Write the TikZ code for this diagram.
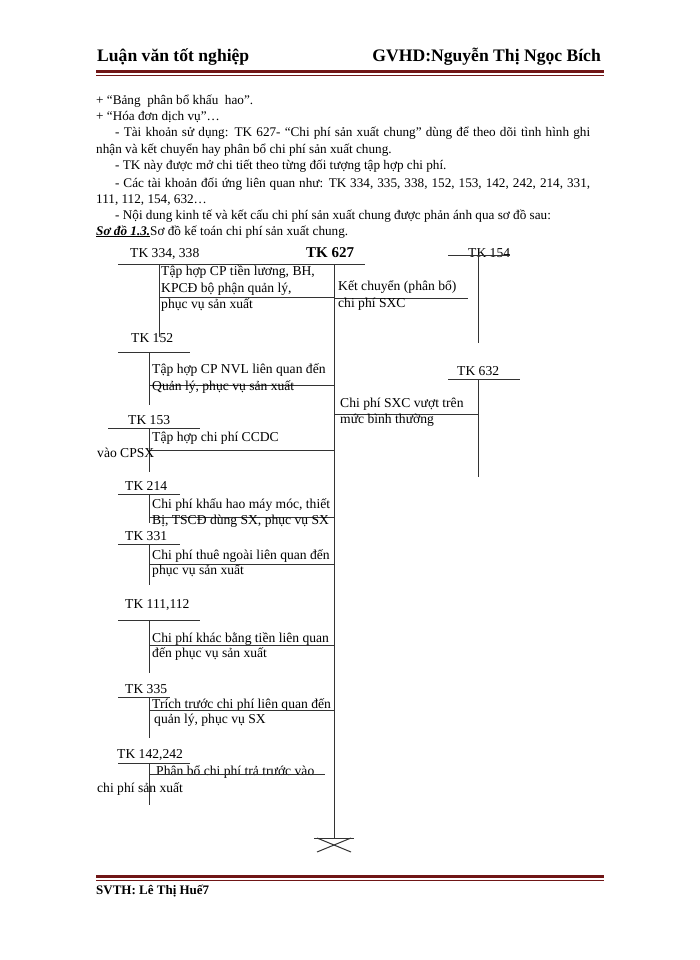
\documentclass[tikz,border=0pt]{standalone}
\usepackage{fontspec}
\setmainfont{Liberation Serif}
\usepackage{xcolor}
\usetikzlibrary{positioning}
\definecolor{rulered}{RGB}{112,22,22}

\begin{document}
\begin{tikzpicture}[x=1pt, y=-1pt,
  txt/.style={anchor=base west, inner sep=0pt,
              font=\fontsize{13.2}{15}\selectfont},
  note/.style={txt, font=\fontsize{13.6}{15}\selectfont},
  head/.style={txt, font=\bfseries\fontsize{17.6}{19}\selectfont},
  acc/.style={draw=black!80, line width=1pt}]
\useasboundingbox[fill=white] (0,0) rectangle (700,960);

\node[head] (hleft) at (97,62) {Luận văn tốt nghiệp};
\node[head, anchor=base east] (hright) at (601,62) {GVHD:Nguyễn Thị Ngọc Bích};
\draw[rulered, line width=3pt] (96,71.5) -- (604,71.5);
\draw[rulered, line width=0.7pt] (96,75) -- (604,75);

\node[txt] (p1) at (96,105) {+ “Bảng \ phân bổ khấu \ hao”.};
\node[txt] (p2) at (96,121) {+ “Hóa đơn dịch vụ”…};
\node[txt] (p3) at (115,137) {\makebox[475pt][s]{- Tài khoản sử dụng: TK 627- “Chi phí sản xuất chung” dùng để theo dõi tình hình ghi}};
\node[txt] (p4) at (96,154) {nhận và kết chuyển hay phân bổ chi phí sản xuất chung.};
\node[txt] (p5) at (115,170) {- TK này được mở chi tiết theo từng đối tượng tập hợp chi phí.};
\node[txt] (p6) at (115,187) {\makebox[475pt][s]{- Các tài khoản đối ứng liên quan như: TK 334, 335, 338, 152, 153, 142, 242, 214, 331,}};
\node[txt] (p7) at (96,203) {111, 112, 154, 632…};
\node[txt] (p8) at (115,219) {- Nội dung kinh tế và kết cấu chi phí sản xuất chung được phản ánh qua sơ đồ sau:};
\node[txt] (cap) at (96,235) {\underline{\textbf{\textit{Sơ đồ 1.3.}}}Sơ đồ kế toán chi phí sản xuất chung.};

\node[note, font=\bfseries\fontsize{15}{16}\selectfont] (tk627) at (306,257) {TK 627};
\draw[acc] (300,264) -- (365,264);
\draw[acc] (334,264) -- (334,838);
\draw[acc] (314,838) -- (354,838);
\draw[acc] (317,838) -- (351,852);
\draw[acc] (351,838) -- (317,852);

\node[note] (tk334) at (130,257) {TK 334, 338};
\draw[acc] (118,264) -- (300,264);
\draw[acc] (159,264) -- (159,337);
\node[note] (t334a) at (161,275) {Tập hợp CP tiền lương, BH,};
\node[note] (t334b) at (161,292) {KPCĐ bộ phận quản lý,};
\draw[acc] (159,297) -- (334,297);
\node[note] (t334c) at (161,308) {phục vụ sản xuất};

\node[note] (tk152) at (131,342) {TK 152};
\draw[acc] (118,352) -- (190,352);
\draw[acc] (149,352) -- (149,405);
\node[note] (t152a) at (152,373) {Tập hợp CP NVL liên quan đến};
\draw[acc] (149,385) -- (334,385);
\node[note] (t152b) at (152,390) {Quản lý, phục vụ sản xuất};

\node[note] (tk153) at (128,424) {TK 153};
\draw[acc] (108,428) -- (200,428);
\draw[acc] (149,428) -- (149,472);
\node[note] (t153a) at (152,441) {Tập hợp chi phí CCDC};
\draw[acc] (149,450) -- (334,450);
\node[note] (t153b) at (97,457) {vào CPSX};

\node[note] (tk214) at (125,490) {TK 214};
\draw[acc] (118,494) -- (180,494);
\draw[acc] (149,494) -- (149,523);
\node[note] (t214a) at (152,508) {Chi phí khấu hao máy móc, thiết};
\draw[acc] (149,517) -- (334,517);
\node[note] (t214b) at (152,524) {Bị, TSCĐ dùng SX, phục vụ SX};

\node[note] (tk331) at (125,540) {TK 331};
\draw[acc] (118,544) -- (180,544);
\draw[acc] (149,544) -- (149,585);
\node[note] (t331a) at (152,559) {Chi phí thuê ngoài liên quan đến};
\draw[acc] (149,564) -- (334,564);
\node[note] (t331b) at (152,574) {phục vụ sản xuất};

\node[note] (tk111) at (125,608) {TK 111,112};
\draw[acc] (118,620) -- (200,620);
\draw[acc] (149,620) -- (149,673);
\node[note] (t111a) at (152,642) {Chi phí khác bằng tiền liên quan};
\draw[acc] (149,645) -- (334,645);
\node[note] (t111b) at (152,657) {đến phục vụ sản xuất};

\node[note] (tk335) at (125,693) {TK 335};
\draw[acc] (118,697) -- (170,697);
\draw[acc] (149,697) -- (149,738);
\node[note] (t335a) at (152,708) {Trích trước chi phí liên quan đến};
\draw[acc] (149,710) -- (334,710);
\node[note] (t335b) at (154,723) {quản lý, phục vụ SX};

\node[note] (tk142) at (117,758) {TK 142,242};
\draw[acc] (118,763) -- (190,763);
\draw[acc] (149,763) -- (149,805);
\node[note] (t142a) at (156,775) {Phân bổ chi phí trả trước vào};
\draw[acc] (149,774) -- (325,774);
\node[note] (t142b) at (97,792) {chi phí sản xuất};

\node[note] (tk154) at (468,257) {TK 154};
\draw[acc] (448,255) -- (510,255);
\draw[acc] (478,255) -- (478,343);
\node[note] (t154a) at (338,290) {Kết chuyển (phân bổ)};
\draw[acc] (334,298) -- (468,298);
\node[note] (t154b) at (338,307) {chi phí SXC};

\node[note] (tk632) at (457,375) {TK 632};
\draw[acc] (448,379) -- (520,379);
\draw[acc] (478,379) -- (478,477);
\node[note] (t632a) at (340,407) {Chi phí SXC vượt trên};
\draw[acc] (334,414) -- (478,414);
\node[note] (t632b) at (340,423) {mức bình thường};

\draw[rulered, line width=3pt] (96,876.5) -- (604,876.5);
\draw[rulered, line width=0.7pt] (96,880) -- (604,880);
\node[txt, font=\bfseries\fontsize{13}{15}\selectfont] (foot) at (96,894) {SVTH: Lê Thị Huế7};
\end{tikzpicture}
\end{document}
